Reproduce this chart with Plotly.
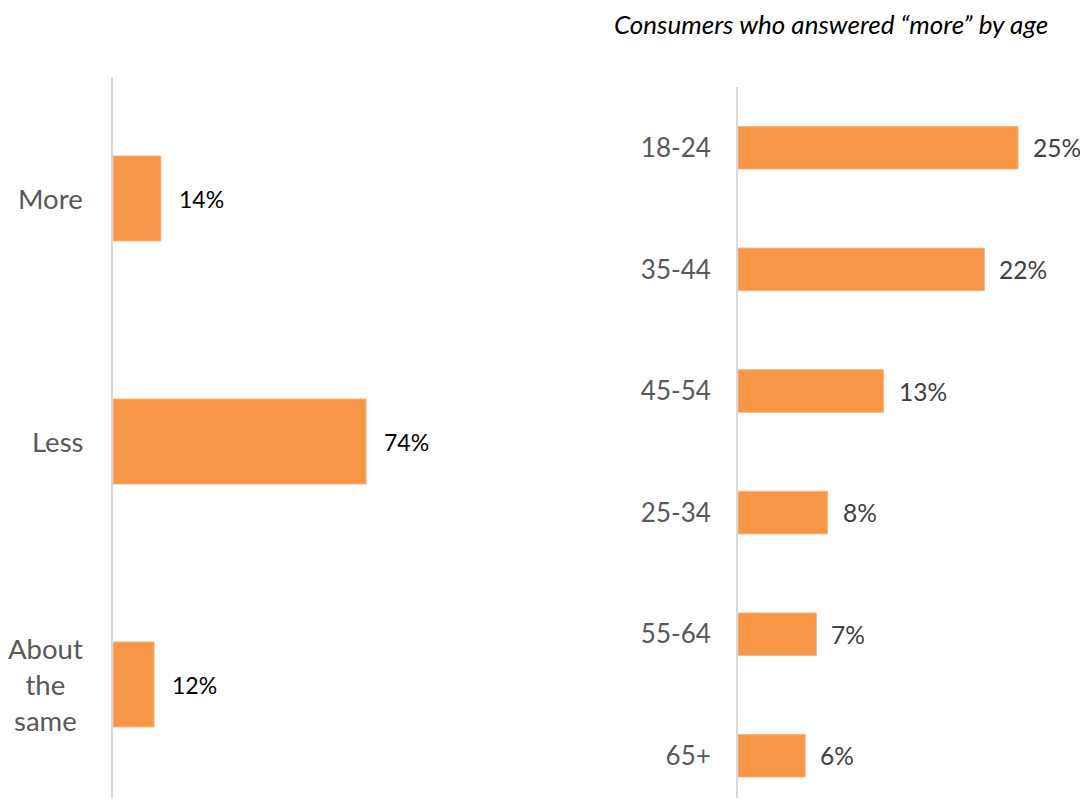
import plotly.graph_objects as go

# Left panel data
answer_cats = ["More", "Less", "About the same"]
answer_tick_text = ["More", "Less", "About<br>the<br>same"]
answer_vals = [14, 74, 12]

# Right panel data
age_cats = ["18-24", "35-44", "45-54", "25-34", "55-64", "65+"]
age_vals = [25, 22, 13, 8, 7, 6]

title_text = "Consumers who answered \u201cmore\u201d by age"

# page body has an 8px margin: work in reference pixels minus 8
OFF = 8
W, H = 1088 - OFF, 806 - 2 * OFF
BAR = "#F79646"
EDGE = "#F9B583"
FONT = "Lato"


def px(x):
    return (x - OFF) / W


def py(y):
    return 1 - (y - OFF) / H


BOTTOM = OFF + H  # reference pixel of the plot bottom

fig = go.Figure()

fig.add_trace(go.Bar(
    x=answer_vals, y=list(range(len(answer_cats))), orientation="h",
    marker=dict(color=BAR, line=dict(color=EDGE, width=1)),
    width=0.35, xaxis="x", yaxis="y", showlegend=False, hoverinfo="skip",
))
fig.add_trace(go.Bar(
    x=age_vals, y=list(range(len(age_cats))), orientation="h",
    marker=dict(color=BAR, line=dict(color=EDGE, width=1)),
    width=0.35, xaxis="x2", yaxis="y2", showlegend=False, hoverinfo="skip",
))

annotations = []
# left category labels (centered multi-line)
for i, t in enumerate(answer_tick_text):
    annotations.append(dict(
        x=px(85), xref="paper", y=i, yref="y", text=t, showarrow=False,
        xanchor="right", yanchor="middle", align="center",
        font=dict(family=FONT, size=27.5, color="#595959"),
    ))
# left value labels
for i, v in enumerate(answer_vals):
    annotations.append(dict(
        x=v, xref="x", y=i, yref="y", text=f"{v}%", showarrow=False,
        xanchor="left", yanchor="middle", xshift=16,
        font=dict(family=FONT, size=23, color="#000000"),
    ))
# right value labels
for i, v in enumerate(age_vals):
    annotations.append(dict(
        x=v, xref="x2", y=i, yref="y2", text=f"{v}%", showarrow=False,
        xanchor="left", yanchor="middle", xshift=13,
        font=dict(family=FONT, size=24.5, color="#404040"),
    ))
# title
annotations.append(dict(
    x=px(1050), xref="paper", y=py(24), yref="paper",
    text=f"<i>{title_text}</i>", showarrow=False,
    xanchor="right", yanchor="middle",
    font=dict(family=FONT, size=26, color="#000000"),
))

fig.update_layout(
    width=W, height=H,
    margin=dict(l=0, r=0, t=0, b=0),
    paper_bgcolor="white", plot_bgcolor="white",
    font=dict(family=FONT),
    annotations=annotations,
    xaxis=dict(domain=[px(113), px(500)], range=[0, 387 / 3.42],
               showgrid=False, zeroline=False, showticklabels=False,
               showline=False, fixedrange=True),
    yaxis=dict(domain=[0, py(77)], range=[-0.5 + (BOTTOM - 77) / 243, -0.5], anchor="x",
               showgrid=False, zeroline=False, showticklabels=False,
               showline=True, linecolor="#D9D9D9", linewidth=2, ticks=""),
    xaxis2=dict(domain=[px(738), px(1060)], range=[0, 322 / 11.2], anchor="y2",
                showgrid=False, zeroline=False, showticklabels=False,
                showline=False),
    yaxis2=dict(domain=[0, py(87)], range=[-0.5 + (BOTTOM - 87) / 121.6, -0.5], anchor="x2",
                tickmode="array", tickvals=list(range(len(age_cats))),
                ticktext=age_cats, ticklabelstandoff=20,
                tickfont=dict(family=FONT, size=26, color="#595959"),
                showgrid=False, zeroline=False,
                showline=True, linecolor="#D9D9D9", linewidth=2, ticks=""),
)

fig.write_html("out.html")
